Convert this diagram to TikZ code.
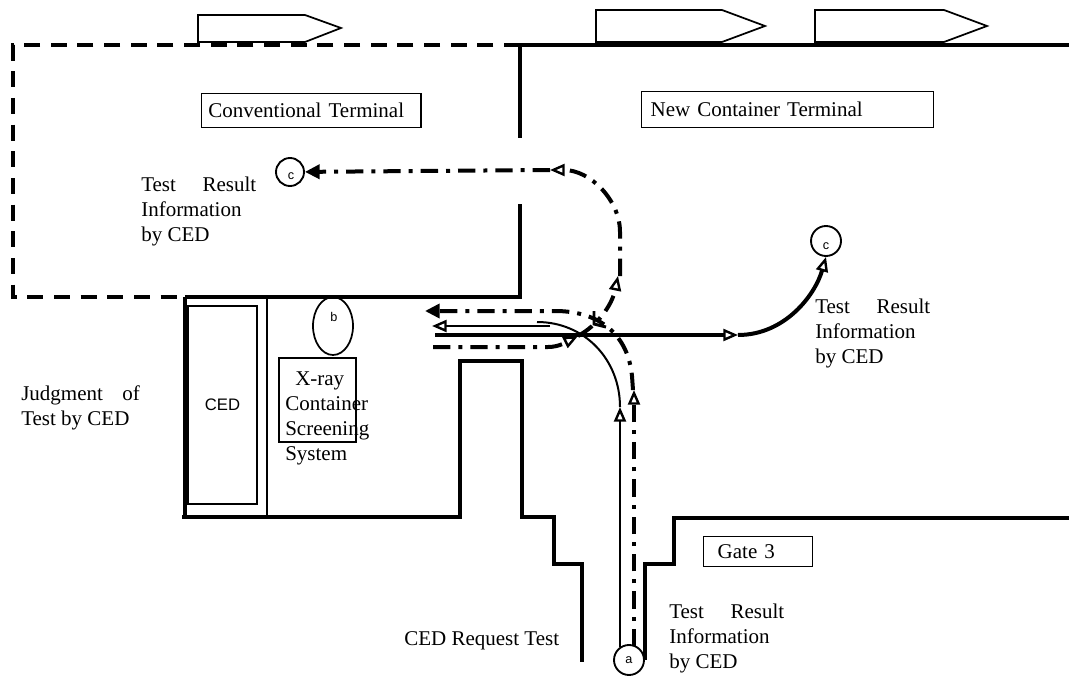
\documentclass[tikz,border=0pt]{standalone}
\usepackage{fontspec}
\setmainfont{Liberation Serif}
\newfontfamily\sansf{Liberation Sans}
\usetikzlibrary{arrows.meta,shapes.geometric}
\begin{document}
\begin{tikzpicture}[x=0.75pt,y=-0.75pt,
  wall/.style={line width=2.4pt},
  bord/.style={line width=3pt, dash pattern=on 12pt off 8pt},
  dd/.style={line width=3pt, dash pattern=on 13pt off 6pt on 3pt off 6pt},
  thinbox/.style={draw, line width=1.1pt},
  openhead/.tip={Triangle[open,length=11pt,width=9pt,line width=1.8pt]},
  fullhead/.tip={Triangle[length=11pt,width=10.5pt]},
  txt/.style={inner sep=0pt, font=\fontsize{15.75}{18.75}\selectfont, align=left},
  lbl/.style={circle, draw, line width=1.4pt, inner sep=0pt, font=\sansf\fontsize{9.5}{9.5}\selectfont},
  pent/.style={draw, line width=1.3pt}]
\useasboundingbox (0,0) rectangle (1069,681);

% top direction arrows
\draw[pent] (198,15) -- (305,15) -- (341,28) -- (305,42) -- (198,42) -- cycle;
\draw[pent] (596,10) -- (722,10) -- (765,26) -- (722,42) -- (596,42) -- cycle;
\draw[pent] (815,10) -- (944,10) -- (987,26) -- (944,42) -- (815,42) -- cycle;

% conventional terminal (dashed) and new terminal walls
\draw[bord] (520,45) -- (13,45) -- (13,297) -- (185,297);
\draw[wall, line width=3pt] (520,45) -- (1069,45);
\draw[wall, line width=3pt] (520,45) -- (520,138);
\draw[wall] (520,204) -- (520,297) -- (185,297);

% inspection building
\draw[wall, line width=3pt] (185,297) -- (185,517);
\draw[wall] (182,517) -- (460,517) -- (460,361) -- (522,361) -- (522,517) -- (554,517) -- (554,564) -- (582,564) -- (582,662);
\draw[wall] (645,660) -- (645,564) -- (674,564) -- (674,518) -- (1069,518);
\draw[line width=1.2pt] (267,297) -- (267,517);
\node[thinbox, line width=1.6pt, minimum width=51.75pt, minimum height=148.5pt, inner sep=0pt, font=\sansf\fontsize{12.5}{14}\selectfont] (ced) at (222.5,405) {CED};
\draw[thinbox, line width=1.5pt] (279,358) rectangle (356,442);
\node[txt, anchor=north west] (xray) at (285,371) {\hspace*{7.5pt}X-ray\\Container\\Screening\\System};

% label boxes
\node[thinbox, anchor=north west, minimum height=25.5pt, text width=154.5pt, inner xsep=5pt, inner ysep=0pt, align=left, font=\fontsize{15.75}{18.75}\selectfont] (conv) at (201,93) {Conventional Terminal};
\node[thinbox, anchor=north west, minimum height=27pt, text width=205.5pt, inner xsep=6.75pt, inner ysep=0pt, align=left, font=\fontsize{15.75}{18.75}\selectfont] (newt) at (641,91) {New Container Terminal};
\node[thinbox, anchor=north west, minimum height=22.5pt, text width=60.75pt, inner xsep=10.5pt, inner ysep=0pt, align=left, font=\fontsize{15.75}{18.75}\selectfont] (gate) at (703,536) {Gate 3};

% texts
\node[txt, anchor=north west] (tl) at (141,177) {\makebox[86.25pt][s]{Test Result}\\Information\\by CED};
\node[txt, anchor=north west] (tr) at (815,299) {\makebox[86.25pt][s]{Test Result}\\Information\\by CED};
\node[txt, anchor=north west] (tb) at (669,604) {\makebox[86.25pt][s]{Test Result}\\Information\\by CED};
\node[txt, anchor=north west] (jd) at (21,385) {\makebox[89pt][s]{Judgment of}\\Test by CED};
\node[txt, anchor=west] (req) at (404,641) {CED Request Test};

% circles
\node[lbl, minimum size=21pt] (cL) at (290,172) {};
\node[inner sep=0pt, font=\sansf\fontsize{9.5}{9.5}\selectfont] (cLt) at (291,176) {c};
\node[lbl, minimum size=22.5pt] (cR) at (826,241) {};
\node[inner sep=0pt, font=\sansf\fontsize{9.5}{9.5}\selectfont] (cRt) at (826,246) {c};
\node[lbl, minimum size=22.5pt] (a) at (629,660) {a};
\node[ellipse, draw, line width=1.3pt, minimum width=30pt, minimum height=43.5pt, inner sep=0pt] (b) at (333,326) {};
\node[inner sep=0pt, font=\sansf\fontsize{9.5}{9.5}\selectfont] (bt) at (334,317) {b};

\coordinate (aW) at (620,647);
\coordinate (aE) at (634,646);

% dash-dot route up to conventional terminal
\draw[dd, -{openhead}] (433,347) -- (548,347) .. controls (560,347) and (568,341) .. (578,336);
\draw[dd, -{openhead}] (578,336) .. controls (598,325) and (612,305) .. (618,276);
\draw[line width=2.2pt] (594,311) -- (594,324) -- (606,327);
\draw[dd, -{openhead}] (620,276) -- (620,232) .. controls (620,200) and (590,170) .. (550,170);
\draw[dd, -{fullhead}] (550,170) -- (cL);

% dash-dot route from gate to x-ray
\draw[dd, -{openhead}] (aE) -- (634,390);
\draw[dd, -{fullhead}] (633,390) -- (632,376) .. controls (628,335) and (600,311) .. (555,311) -- (425,311);

% solid routes
\draw[line width=2.2pt, -{openhead}] (aW) -- (620,407);
\draw[line width=1.5pt] (620,407) .. controls (620,360) and (585,322) .. (537,322);
\draw[line width=2.2pt, -{openhead}] (550,326) -- (432,326);
\draw[line width=3pt, -{openhead}] (435,335) -- (738,335);
\draw[line width=3pt, -{openhead}] (738,335) .. controls (785,335) and (815,295) .. (cR.south);
\end{tikzpicture}
\end{document}
